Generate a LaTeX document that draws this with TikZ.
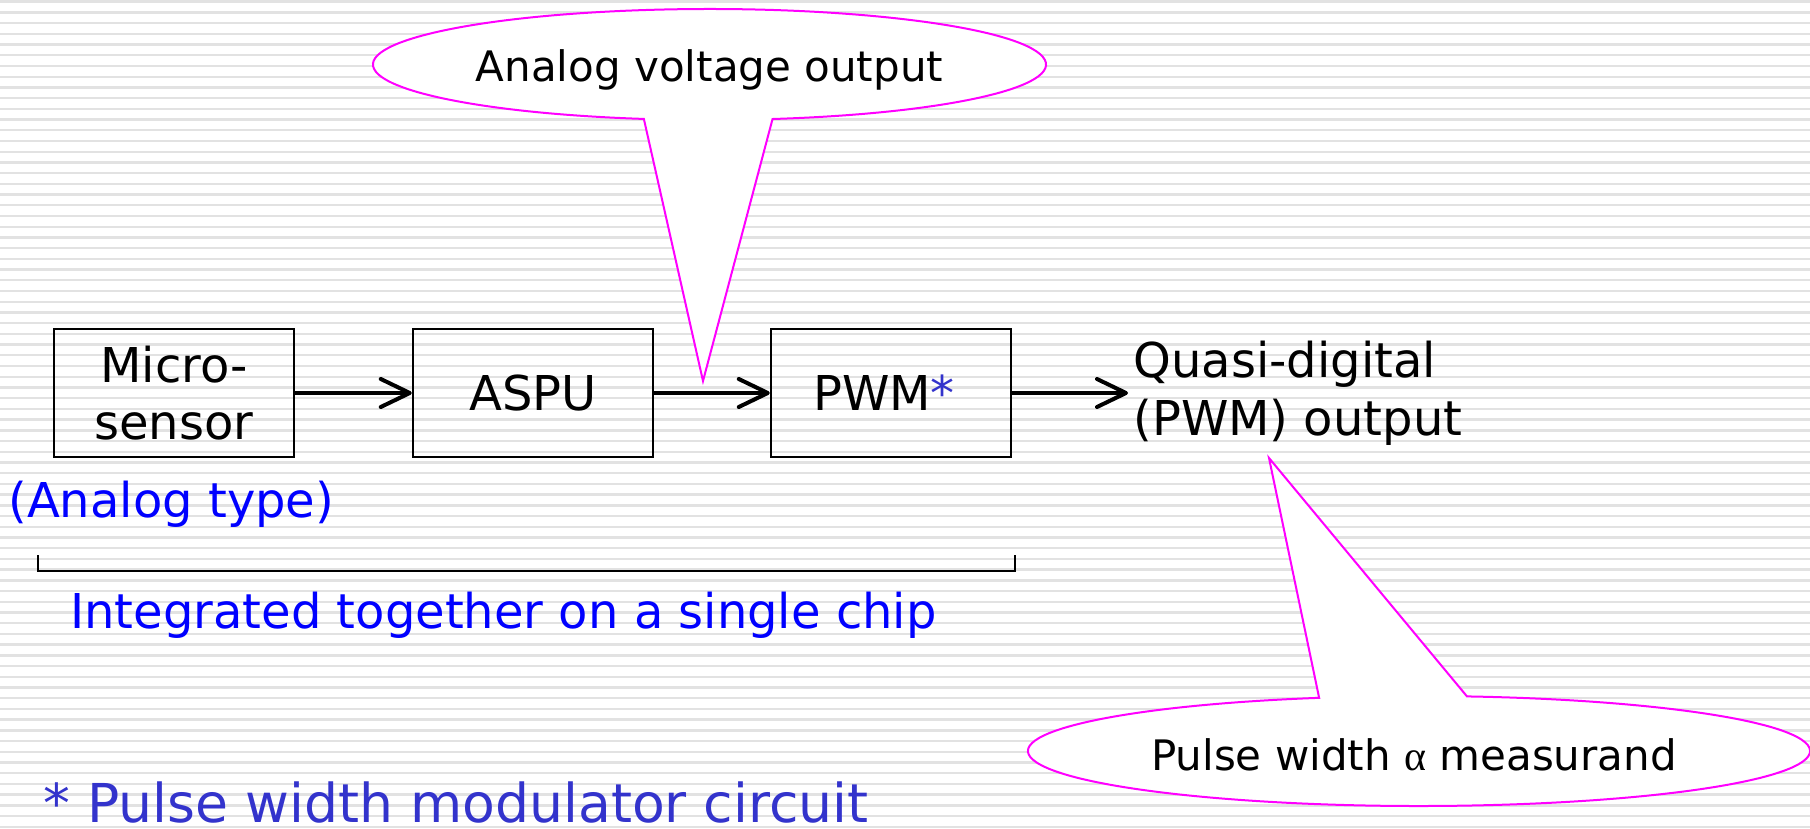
\documentclass[tikz,border=0pt]{standalone}
\usepackage{fontspec}
\setmainfont{DejaVu Sans}
\newfontfamily\grkfont{Liberation Serif}
\usetikzlibrary{arrows.meta}
\definecolor{stripec}{RGB}{226,226,226}
\definecolor{tblue}{RGB}{0,0,255}
\definecolor{fblue}{RGB}{51,51,204}
\definecolor{magc}{RGB}{255,0,255}
\begin{document}
\begin{tikzpicture}[x=0.5pt,y=0.5pt,
  blk/.style={draw, line width=1.2pt, minimum width=120pt, minimum height=64pt, inner sep=0pt, align=center, font=\fontsize{24}{28.5}\selectfont},
  arr/.style={line width=2pt, -{Straight Barb[length=14.5pt,width=14pt,round]}},
  txt/.style={inner sep=0pt, font=\fontsize{24}{29}\selectfont},
  foot/.style={inner sep=0pt, text=fblue, font=\fontsize{26.8}{32}\selectfont},
  ctext/.style={inner sep=0pt, font=\fontsize{21}{25}\selectfont},
  callout/.style={draw=magc, fill=white, line width=1pt, line join=miter},
  stripe/.style={draw=stripec, line width=1.2pt},
  bracket/.style={draw, line width=1.2pt}
]
\useasboundingbox (0,0) rectangle (1810,-829);
\fill[white] (0,0) rectangle (1810,-829);
\foreach \k in {0,...,77} \draw[stripe] (0,{-1.7-\k*10.715}) -- (1810,{-1.7-\k*10.715});

% callouts
\coordinate (c1) at (709.5,-64.5);
\coordinate (tip1) at (703,-381);
\filldraw[callout] (c1) ++(-79.2:336.5 and 55.5) arc[start angle=-79.2, end angle=258.75, x radius=336.5, y radius=55.5] -- (tip1) -- cycle;
\coordinate (c2) at (1419,-751);
\coordinate (tip2) at (1269,-458);
\filldraw[callout] (c2) ++(104.8:391 and 55) arc[start angle=104.8, end angle=442.95, x radius=391, y radius=55] -- (tip2) -- cycle;
\node[ctext, anchor=base] (cv) at (709.5,-82) {Analog voltage output};
\node[ctext, anchor=base] (pw) at (1414,-770) {Pulse width {\grkfont α} measurand};

% blocks
\node[blk] (micro) at (174,-393) {Micro-\\sensor};
\node[blk] (aspu) at (533,-393) {ASPU};
\node[blk] (pwm) at (891,-393) {PWM\textcolor{fblue}{*}\hspace*{7pt}};
\coordinate (out) at (1128,-393);
\draw[arr] (micro.east) -- (aspu.west);
\draw[arr] (aspu.east) -- (pwm.west);
\draw[arr] (pwm.east) -- (out);
\node[txt, align=left, anchor=west] (qd) at (1133,-393) {Quasi-digital\\(PWM) output};

\node[txt, text=tblue, anchor=base west] (atype) at (8,-517) {(Analog type)};
\coordinate (bl) at (38,-555);
\coordinate (br) at (1015,-555);
\draw[bracket] (bl) -- ++(0,-16) -| (br);
\node[txt, text=tblue, anchor=base west] (integ) at (70,-628) {Integrated together on a single chip};
\node[foot, anchor=base west] (fn) at (43,-822) {* Pulse width modulator circuit};
\end{tikzpicture}
\end{document}
